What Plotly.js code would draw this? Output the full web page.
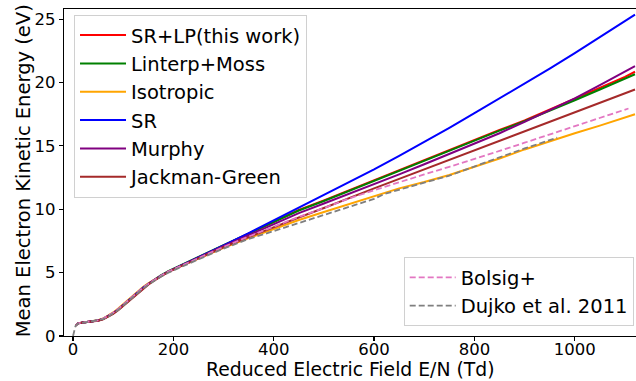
<!DOCTYPE html>
<html>
<head>
<meta charset="utf-8">
<script src="https://cdn.plot.ly/plotly-3.0.1.min.js"></script>
<style>html,body{margin:0;padding:0;background:#fff;}#chart{width:636px;height:381px;}</style>
</head>
<body>
<div id="chart"></div>
<script>
// Reduced electric field E/N (Td)
const fieldModels = [5,10,20,30,40,50,60,70,80,90,100,110,120,130,140,150,160,175,190,210,230,250,275,300,350,400,450,500,550,600,650,700,750,800,850,900,950,1000,1050,1100,1120];
const fieldBolsig = [5,10,20,30,40,50,60,70,80,90,100,110,120,130,140,150,160,175,190,210,230,250,275,300,350,400,450,500,550,600,650,700,750,800,850,900,950,1000,1050,1100,1107];
const fieldDujko = [0,2,5,10,20,30,40,50,60,70,80,90,100,110,120,130,140,150,160,175,190,210,230,250,275,300,350,400,450,500,550,600,620,650,700,750,800,850,900,965];

// Mean electron kinetic energy (eV)
const srlp = [0.82,1.0,1.07,1.11,1.16,1.23,1.34,1.53,1.78,2.07,2.42,2.77,3.12,3.47,3.79,4.08,4.36,4.74,5.08,5.46,5.84,6.2,6.66,
  7.12,8.1,9.05,9.95,10.7,11.5,12.3,13.1,13.9,14.7,15.5,16.25,17.0,17.85,18.7,19.6,20.45,20.85];
const linterpMoss = [0.82,1.0,1.07,1.11,1.16,1.23,1.35,1.55,1.8,2.1,2.45,2.8,3.15,3.5,3.82,4.11,4.39,4.78,5.12,5.5,5.88,6.24,6.7,
  7.17,8.08,9.0,9.9,10.65,11.45,12.25,13.05,13.85,14.65,15.45,16.2,16.95,17.75,18.6,19.45,20.3,20.65];
const isotropic = [0.82,1.0,1.07,1.11,1.17,1.25,1.38,1.6,1.86,2.17,2.52,2.88,3.23,3.57,3.88,4.15,4.4,4.77,5.08,5.43,5.78,6.1,6.52,
  6.95,7.72,8.45,9.15,9.78,10.42,11.05,11.65,12.15,12.7,13.35,14.0,14.72,15.38,16.0,16.6,17.25,17.5];
const sr = [0.82,1.0,1.07,1.11,1.16,1.23,1.35,1.55,1.8,2.1,2.45,2.8,3.15,3.5,3.82,4.1,4.37,4.75,5.08,5.45,5.82,6.18,6.65,
  7.15,8.12,9.12,10.12,11.12,12.12,13.15,14.22,15.3,16.43,17.58,18.74,19.9,21.1,22.32,23.56,24.82,25.35];
const murphy = [0.82,1.0,1.07,1.11,1.16,1.23,1.35,1.54,1.79,2.09,2.43,2.78,3.13,3.48,3.8,4.09,4.37,4.75,5.08,5.45,5.82,6.17,6.62,
  7.08,7.95,8.85,9.7,10.45,11.2,12.0,12.75,13.55,14.35,15.2,16.0,16.9,17.8,18.75,19.8,20.85,21.3];
const jackmanGreen = [0.82,1.0,1.06,1.1,1.15,1.21,1.32,1.5,1.74,2.03,2.37,2.72,3.07,3.42,3.75,4.05,4.33,4.72,5.05,5.42,5.78,6.12,6.55,
  7.0,7.8,8.6,9.35,10.1,10.9,11.65,12.4,13.15,13.9,14.65,15.4,16.1,16.85,17.6,18.35,19.15,19.45];
const bolsig = [0.82,1.0,1.07,1.11,1.16,1.24,1.37,1.57,1.83,2.13,2.48,2.83,3.18,3.52,3.83,4.11,4.38,4.75,5.08,5.44,5.8,6.13,6.58,
  7.03,7.85,8.65,9.4,10.1,10.85,11.5,12.15,12.75,13.35,13.95,14.6,15.25,15.9,16.55,17.2,17.85,17.95];
const dujko = [0,0.4,0.8,0.98,1.05,1.1,1.15,1.22,1.33,1.52,1.76,2.05,2.4,2.75,3.1,3.44,3.76,4.04,4.31,4.68,
  5.0,5.36,5.72,6.05,6.48,6.9,7.65,8.28,8.92,9.52,10.15,10.82,11.2,11.55,12.1,12.65,13.4,14.1,14.8,15.65];

const xTicks = [0,200,400,600,800,1000];
const yTicks = [0,5,10,15,20,25];
const xTitle = 'Reduced Electric Field E/N (Td)';
const yTitle = 'Mean Electron Kinetic Energy (eV)';

const FONT = 'DejaVu Sans, Arial, sans-serif';

function solid(name, x, y, color) {
  return {type:'scatter', mode:'lines', name:name, x:x, y:y,
    line:{color:color, width:2}, legend:'legend'};
}
function dashed(name, x, y, color) {
  return {type:'scatter', mode:'lines', name:name, x:x, y:y,
    line:{color:color, width:1.8, dash:'6px,3px'}, legend:'legend2'};
}

const data = [
  solid('SR+LP(this work)', fieldModels, srlp, '#ff0000'),
  solid('Linterp+Moss', fieldModels, linterpMoss, '#008000'),
  solid('Isotropic', fieldModels, isotropic, '#ffa500'),
  solid('SR', fieldModels, sr, '#0000ff'),
  solid('Murphy', fieldModels, murphy, '#800080'),
  solid('Jackman-Green', fieldModels, jackmanGreen, '#a52a2a'),
  dashed('Bolsig+', fieldBolsig, bolsig, '#e377c2'),
  dashed('Dujko et al. 2011', fieldDujko, dujko, '#7f7f7f')
];

const layout = {
  width:636, height:381,
  margin:{l:64, r:0, t:9, b:45, pad:0},
  paper_bgcolor:'#ffffff', plot_bgcolor:'#ffffff',
  font:{family:FONT, size:17, color:'#000'},
  showlegend:true,
  xaxis:{
    range:[-18,1122], tickvals:xTicks, ticktext:xTicks.map(String),
    showgrid:false, zeroline:false, showline:true, linecolor:'#000', linewidth:1.2,
    mirror:true, ticks:'outside', ticklen:4, tickwidth:1.2, tickcolor:'#000',
    ticklabelstandoff:-6,
    tickfont:{family:FONT, size:16.5, color:'#000'},
    automargin:false
  },
  yaxis:{
    range:[0,25.8], tickvals:yTicks, ticktext:yTicks.map(String),
    showgrid:false, zeroline:false, showline:true, linecolor:'#000', linewidth:1.2,
    mirror:false, ticks:'outside', ticklen:4, tickwidth:1.2, tickcolor:'#000',
    tickfont:{family:FONT, size:16.5, color:'#000'},
    automargin:false
  },
  annotations:[{
    text:yTitle, xref:'paper', yref:'paper', x:-0.071, y:0.505,
    xanchor:'center', yanchor:'middle', textangle:-90, showarrow:false, borderpad:0,
    font:{family:FONT, size:19.5, color:'#000'}
  },{
    text:xTitle, xref:'paper', yref:'paper', x:0.5, y:-0.1388,
    xanchor:'center', yanchor:'bottom', showarrow:false, borderpad:0,
    font:{family:FONT, size:18.8, color:'#000'}
  }],
  legend:{
    x:0.0175, y:0.982, xanchor:'left', yanchor:'top',
    bgcolor:'rgba(255,255,255,0.8)', bordercolor:'#d0d0d0', borderwidth:1,
    font:{family:FONT, size:19.5, color:'#000'}, itemwidth:46, tracegroupgap:0
  },
  legend2:{
    x:0.996, y:0.03, xanchor:'right', yanchor:'bottom',
    bgcolor:'rgba(255,255,255,0.8)', bordercolor:'#d0d0d0', borderwidth:1,
    font:{family:FONT, size:19.5, color:'#000'}, itemwidth:46, tracegroupgap:0
  }
};

Plotly.newPlot('chart', data, layout, {displayModeBar:false, staticPlot:true});
</script>
</body>
</html>
